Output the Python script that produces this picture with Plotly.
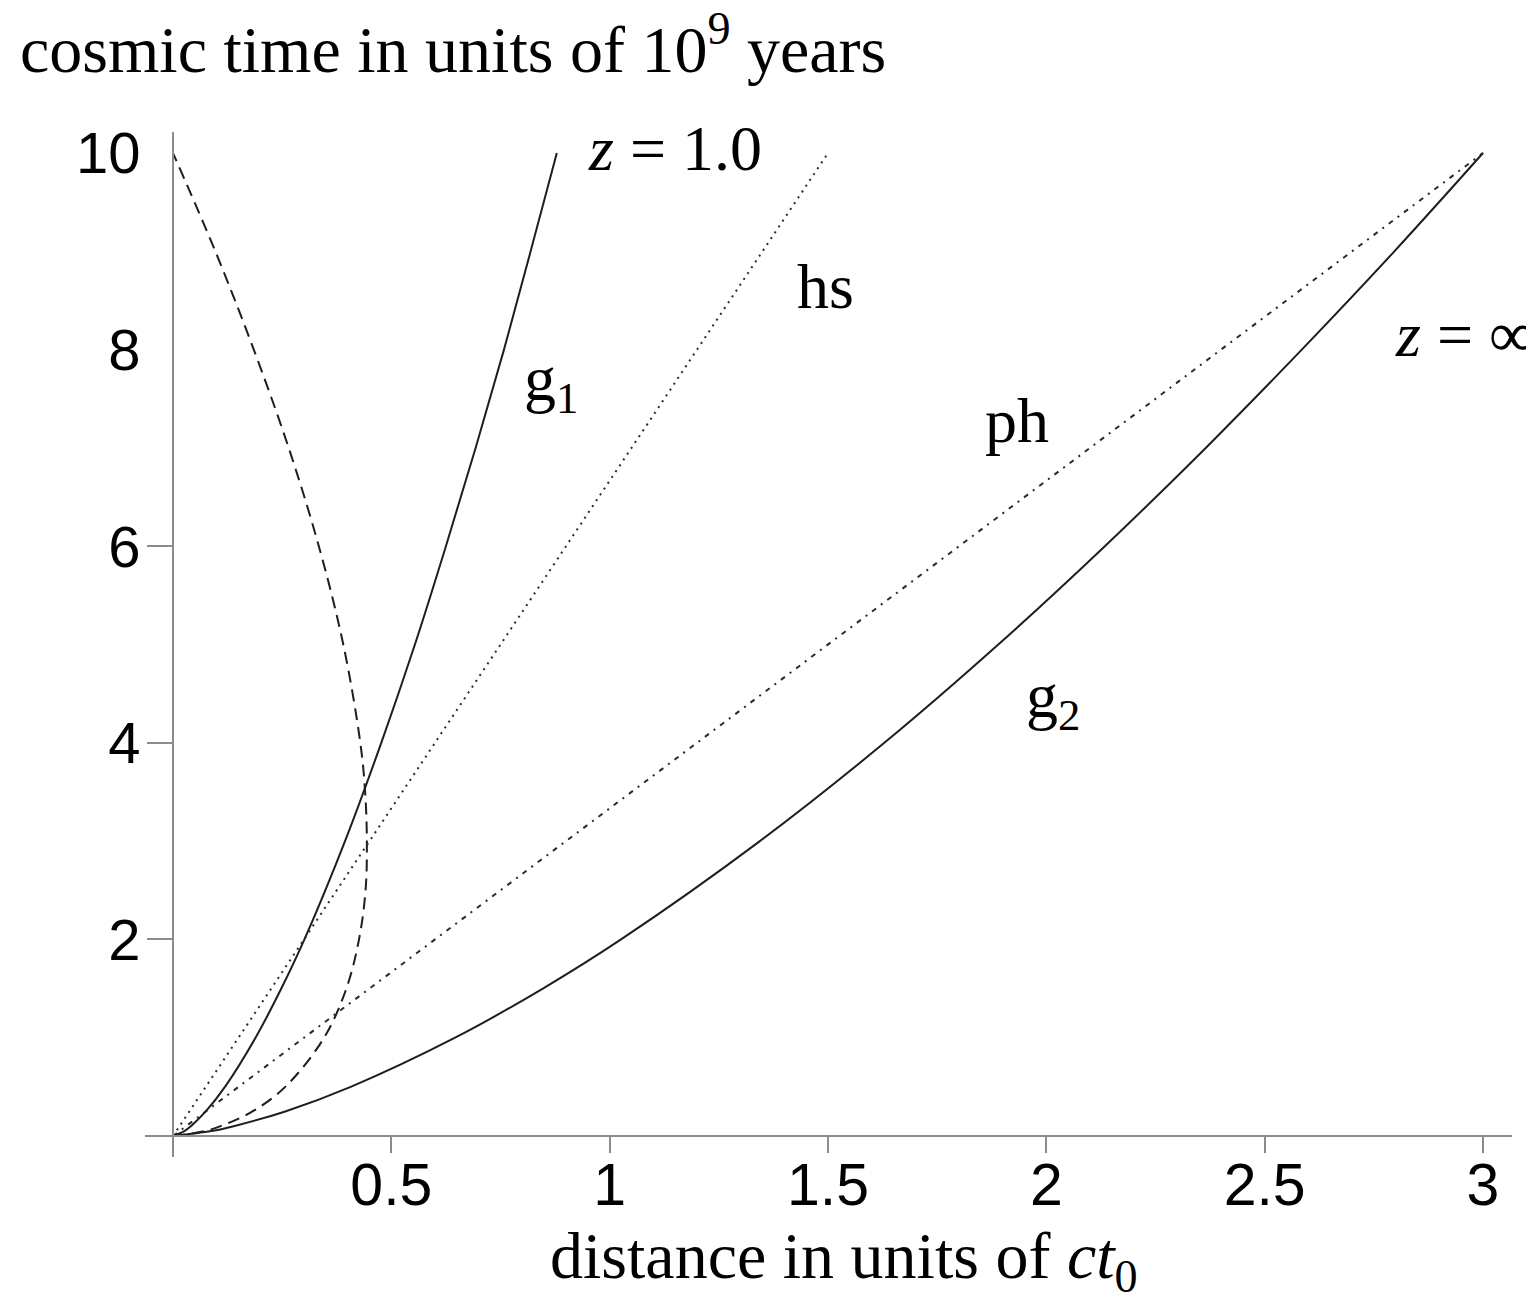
import plotly.graph_objects as go

# cosmic time (10^9 years) sampled along each curve
t_world = [0, 0.05, 0.1, 0.25, 0.5, 1, 1.5, 2, 3, 4, 5, 6, 7, 8, 9, 10]
# galaxy worldlines: proper distance in units of c*t0
g1_dist = [0, 0.026, 0.041, 0.075, 0.119, 0.189, 0.248, 0.301, 0.394, 0.477,
           0.554, 0.625, 0.693, 0.758, 0.819, 0.879]
g2_dist = [0, 0.088, 0.139, 0.257, 0.407, 0.646, 0.847, 1.026, 1.344, 1.629,
           1.890, 2.134, 2.365, 2.585, 2.797, 3.0]

# past light cone of the observer at t = 10
t_cone = [0, 0.05, 0.1, 0.25, 0.5, 1, 1.5, 2, 2.5, 3, 3.5, 4, 5, 6, 7, 8, 9, 10]
cone_dist = [0, 0.073, 0.109, 0.182, 0.257, 0.346, 0.397, 0.426, 0.441, 0.444,
             0.440, 0.429, 0.390, 0.334, 0.265, 0.185, 0.097, 0]

# Hubble sphere and particle horizon
t_line = [0, 2, 4, 6, 8, 10]
hs_dist = [0, 0.3, 0.6, 0.9, 1.2, 1.5]
ph_dist = [0, 0.6, 1.2, 1.8, 2.4, 3.0]

x_ticks = [0.5, 1, 1.5, 2, 2.5, 3]
x_ticktext = ["0.5", "1", "1.5", "2", "2.5", "3"]
y_labels = [2, 4, 6, 8, 10]
y_tickmarks = [0, 2, 4, 6]

X_RANGE = [-0.0641, 3.0664]
Y_RANGE = [-0.2136, 10.214]
# put the axis lines through the origin
x_axis_pos = -Y_RANGE[0] / (Y_RANGE[1] - Y_RANGE[0])
y_axis_pos = -X_RANGE[0] / (X_RANGE[1] - X_RANGE[0])

AXIS_GREY = "#8c8c8c"
INK = "#1e1e1e"
SERIF = "Liberation Serif, Times New Roman, serif"
SANS = "Liberation Sans, Arial, sans-serif"

fig = go.Figure()
fig.add_trace(go.Scatter(x=cone_dist, y=t_cone, mode="lines", name="past light cone",
                         line=dict(color=INK, width=2, dash="12px,7px", shape="spline")))
fig.add_trace(go.Scatter(x=hs_dist, y=t_line, mode="lines", name="hs", yaxis="y2",
                         line=dict(color="#2a2a2a", width=2, dash="2px,5px")))
fig.add_trace(go.Scatter(x=ph_dist, y=t_line, mode="lines", name="ph",
                         line=dict(color="#2a2a2a", width=2, dash="5px,6px,2px,6px")))
fig.add_trace(go.Scatter(x=g1_dist, y=t_world, mode="lines", name="g1",
                         line=dict(color=INK, width=2, shape="spline")))
fig.add_trace(go.Scatter(x=g2_dist, y=t_world, mode="lines", name="g2",
                         line=dict(color=INK, width=2, shape="spline")))

labels = [
    ("<i>z</i> = 1.0", 1.150, 10.05, "center"),
    ("hs", 1.495, 8.64, "center"),
    ("g<sub>1</sub>", 0.865, 7.66, "center"),
    ("ph", 1.933, 7.28, "center"),
    ("<i>z</i> = ∞", 2.794, 8.15, "left"),
    ("g<sub>2</sub>", 2.015, 4.44, "center"),
]
for text, x, y, anchor in labels:
    fig.add_annotation(text=text, x=x, y=y, xref="x", yref="y", showarrow=False,
                       xanchor=anchor, yanchor="middle",
                       font=dict(family=SERIF, size=64, color="black"))

fig.add_annotation(text="cosmic time in units of 10<sup>9</sup> years",
                   x=-0.0929, y=1.085, xref="paper", yref="paper", showarrow=False,
                   xanchor="left", yanchor="middle",
                   font=dict(family=SERIF, size=66, color="black"))
fig.add_annotation(text="distance in units of <i>ct</i><sub>0</sub>",
                   x=0.5113, y=-0.1010, xref="paper", yref="paper", showarrow=False,
                   xanchor="center", yanchor="middle",
                   font=dict(family=SERIF, size=66, color="black"))

fig.update_layout(
    width=1526,
    height=1288,
    margin=dict(l=137, r=22, t=124, b=139),
    paper_bgcolor="white",
    plot_bgcolor="white",
    showlegend=False,
    xaxis=dict(
        range=X_RANGE, anchor="free", position=x_axis_pos,
        showgrid=False, zeroline=False,
        showline=True, linecolor=AXIS_GREY, linewidth=2,
        tickvals=x_ticks, ticktext=x_ticktext,
        ticks="outside", ticklen=16, tickwidth=2, tickcolor=AXIS_GREY,
        ticklabelstandoff=-19,
        tickfont=dict(family=SANS, size=59, color="black"),
    ),
    yaxis=dict(
        range=Y_RANGE, anchor="free", position=y_axis_pos,
        showgrid=False, zeroline=False,
        showline=True, linecolor=AXIS_GREY, linewidth=2,
        tickvals=y_labels, ticks="",
        ticklabelstandoff=20,
        tickfont=dict(family=SANS, size=58, color="black"),
    ),
    yaxis2=dict(
        range=Y_RANGE, overlaying="y", anchor="free", position=y_axis_pos,
        showgrid=False, zeroline=False, showline=False,
        tickvals=y_tickmarks, showticklabels=False,
        ticks="outside", ticklen=26, tickwidth=2, tickcolor=AXIS_GREY,
    ),
)

fig.write_html("out.html")
